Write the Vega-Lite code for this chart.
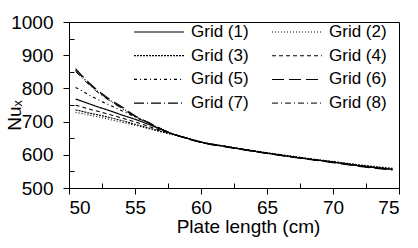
{
  "$schema": "https://vega.github.io/schema/vega-lite/v6.json",
  "autosize": "none",
  "width": 330,
  "height": 166,
  "padding": {"left": 69, "top": 22, "right": 19, "bottom": 60},
  "background": "white",
  "config": {
    "view": {"stroke": "black", "strokeWidth": 1},
    "font": "Liberation Sans",
    "axis": {"grid": false, "domainColor": "black", "tickColor": "black", "labelColor": "black", "titleColor": "black", "labelFont": "Liberation Sans", "titleFont": "Liberation Sans", "labelFontSize": 19, "titleFontSize": 19, "titleFontWeight": "normal"}
  },
  "data": {"values": [
    {"g":"Grid (1)","x":50.5,"y":768},{"g":"Grid (1)","x":51,"y":761},{"g":"Grid (1)","x":51.5,"y":754},{"g":"Grid (1)","x":52,"y":747},{"g":"Grid (1)","x":53,"y":734},{"g":"Grid (1)","x":54,"y":720},{"g":"Grid (1)","x":55,"y":707},{"g":"Grid (1)","x":56,"y":692},{"g":"Grid (1)","x":57,"y":676},{"g":"Grid (1)","x":58,"y":661},{"g":"Grid (1)","x":59,"y":649},{"g":"Grid (1)","x":60,"y":638},{"g":"Grid (1)","x":62,"y":624},{"g":"Grid (1)","x":64,"y":611},{"g":"Grid (1)","x":66,"y":599},{"g":"Grid (1)","x":68,"y":588},{"g":"Grid (1)","x":70,"y":578},{"g":"Grid (1)","x":72,"y":567},{"g":"Grid (1)","x":74.5,"y":556},
    {"g":"Grid (2)","x":50.5,"y":728},{"g":"Grid (2)","x":51,"y":724},{"g":"Grid (2)","x":51.5,"y":720},{"g":"Grid (2)","x":52,"y":716},{"g":"Grid (2)","x":53,"y":707},{"g":"Grid (2)","x":54,"y":698},{"g":"Grid (2)","x":55,"y":689},{"g":"Grid (2)","x":56,"y":679},{"g":"Grid (2)","x":57,"y":669},{"g":"Grid (2)","x":58,"y":659},{"g":"Grid (2)","x":59,"y":650},{"g":"Grid (2)","x":60,"y":639},{"g":"Grid (2)","x":62,"y":625},{"g":"Grid (2)","x":64,"y":612},{"g":"Grid (2)","x":66,"y":601},{"g":"Grid (2)","x":68,"y":590},{"g":"Grid (2)","x":70,"y":580},{"g":"Grid (2)","x":72,"y":570},{"g":"Grid (2)","x":74.5,"y":560},
    {"g":"Grid (3)","x":50.5,"y":735},{"g":"Grid (3)","x":51,"y":731},{"g":"Grid (3)","x":51.5,"y":726},{"g":"Grid (3)","x":52,"y":722},{"g":"Grid (3)","x":53,"y":713},{"g":"Grid (3)","x":54,"y":703},{"g":"Grid (3)","x":55,"y":692},{"g":"Grid (3)","x":56,"y":681},{"g":"Grid (3)","x":57,"y":670},{"g":"Grid (3)","x":58,"y":660},{"g":"Grid (3)","x":59,"y":650},{"g":"Grid (3)","x":60,"y":639},{"g":"Grid (3)","x":62,"y":625},{"g":"Grid (3)","x":64,"y":612},{"g":"Grid (3)","x":66,"y":600},{"g":"Grid (3)","x":68,"y":589},{"g":"Grid (3)","x":70,"y":579},{"g":"Grid (3)","x":72,"y":569},{"g":"Grid (3)","x":74.5,"y":558},
    {"g":"Grid (4)","x":50.5,"y":749},{"g":"Grid (4)","x":51,"y":744},{"g":"Grid (4)","x":51.5,"y":738},{"g":"Grid (4)","x":52,"y":733},{"g":"Grid (4)","x":53,"y":722},{"g":"Grid (4)","x":54,"y":711},{"g":"Grid (4)","x":55,"y":699},{"g":"Grid (4)","x":56,"y":686},{"g":"Grid (4)","x":57,"y":673},{"g":"Grid (4)","x":58,"y":661},{"g":"Grid (4)","x":59,"y":649},{"g":"Grid (4)","x":60,"y":638},{"g":"Grid (4)","x":62,"y":624},{"g":"Grid (4)","x":64,"y":611},{"g":"Grid (4)","x":66,"y":599},{"g":"Grid (4)","x":68,"y":588},{"g":"Grid (4)","x":70,"y":578},{"g":"Grid (4)","x":72,"y":567},{"g":"Grid (4)","x":74.5,"y":556},
    {"g":"Grid (5)","x":50.5,"y":803},{"g":"Grid (5)","x":51,"y":792},{"g":"Grid (5)","x":51.5,"y":781},{"g":"Grid (5)","x":52,"y":770},{"g":"Grid (5)","x":53,"y":751},{"g":"Grid (5)","x":54,"y":733},{"g":"Grid (5)","x":55,"y":714},{"g":"Grid (5)","x":56,"y":696},{"g":"Grid (5)","x":57,"y":677},{"g":"Grid (5)","x":58,"y":661},{"g":"Grid (5)","x":59,"y":649},{"g":"Grid (5)","x":60,"y":638},{"g":"Grid (5)","x":62,"y":624},{"g":"Grid (5)","x":64,"y":611},{"g":"Grid (5)","x":66,"y":599},{"g":"Grid (5)","x":68,"y":588},{"g":"Grid (5)","x":70,"y":578},{"g":"Grid (5)","x":72,"y":567},{"g":"Grid (5)","x":74.5,"y":556},
    {"g":"Grid (6)","x":50.5,"y":860},{"g":"Grid (6)","x":51,"y":838},{"g":"Grid (6)","x":51.5,"y":818},{"g":"Grid (6)","x":52,"y":800},{"g":"Grid (6)","x":53,"y":770},{"g":"Grid (6)","x":54,"y":745},{"g":"Grid (6)","x":55,"y":718},{"g":"Grid (6)","x":56,"y":698},{"g":"Grid (6)","x":57,"y":678},{"g":"Grid (6)","x":58,"y":661},{"g":"Grid (6)","x":59,"y":648},{"g":"Grid (6)","x":60,"y":637},{"g":"Grid (6)","x":62,"y":623},{"g":"Grid (6)","x":64,"y":610},{"g":"Grid (6)","x":66,"y":598},{"g":"Grid (6)","x":68,"y":587},{"g":"Grid (6)","x":70,"y":576},{"g":"Grid (6)","x":72,"y":565},{"g":"Grid (6)","x":74.5,"y":554},
    {"g":"Grid (7)","x":50.5,"y":856},{"g":"Grid (7)","x":51,"y":835},{"g":"Grid (7)","x":51.5,"y":815},{"g":"Grid (7)","x":52,"y":797},{"g":"Grid (7)","x":53,"y":767},{"g":"Grid (7)","x":54,"y":742},{"g":"Grid (7)","x":55,"y":716},{"g":"Grid (7)","x":56,"y":697},{"g":"Grid (7)","x":57,"y":677},{"g":"Grid (7)","x":58,"y":661},{"g":"Grid (7)","x":59,"y":649},{"g":"Grid (7)","x":60,"y":638},{"g":"Grid (7)","x":62,"y":624},{"g":"Grid (7)","x":64,"y":611},{"g":"Grid (7)","x":66,"y":599},{"g":"Grid (7)","x":68,"y":588},{"g":"Grid (7)","x":70,"y":578},{"g":"Grid (7)","x":72,"y":567},{"g":"Grid (7)","x":74.5,"y":556},
    {"g":"Grid (8)","x":50.5,"y":851},{"g":"Grid (8)","x":51,"y":831},{"g":"Grid (8)","x":51.5,"y":812},{"g":"Grid (8)","x":52,"y":794},{"g":"Grid (8)","x":53,"y":765},{"g":"Grid (8)","x":54,"y":740},{"g":"Grid (8)","x":55,"y":715},{"g":"Grid (8)","x":56,"y":696},{"g":"Grid (8)","x":57,"y":677},{"g":"Grid (8)","x":58,"y":661},{"g":"Grid (8)","x":59,"y":649},{"g":"Grid (8)","x":60,"y":638},{"g":"Grid (8)","x":62,"y":624},{"g":"Grid (8)","x":64,"y":611},{"g":"Grid (8)","x":66,"y":599},{"g":"Grid (8)","x":68,"y":588},{"g":"Grid (8)","x":70,"y":578},{"g":"Grid (8)","x":72,"y":567},{"g":"Grid (8)","x":74.5,"y":555}
  ]},
  "mark": {"type": "line", "color": "black", "interpolate": "monotone"},
  "encoding": {
    "x": {
      "field": "x", "type": "quantitative",
      "scale": {"domain": [50, 75], "nice": false, "zero": false},
      "axis": {
        "values": [50, 52.5, 55, 57.5, 60, 62.5, 65, 67.5, 70, 72.5, 75],
        "labelExpr": "datum.value % 5 === 0 ? datum.label : ''",
        "tickSize": {"condition": {"test": "datum.value % 5 !== 0", "value": -5}, "value": 6},
        "labelPadding": 4,
        "title": "Plate length (cm)",
        "titleX": 179, "titleY": 44, "titleBaseline": "alphabetic", "titleAlign": "center"
      }
    },
    "y": {
      "field": "y", "type": "quantitative",
      "scale": {"domain": [500, 1000], "nice": false, "zero": false},
      "axis": {
        "values": [500, 550, 600, 650, 700, 750, 800, 850, 900, 950, 1000],
        "format": "d",
        "labelExpr": "datum.value % 100 === 0 ? datum.label : ''",
        "tickSize": {"condition": {"test": "datum.value % 100 !== 0", "value": -5}, "value": 6},
        "labelPadding": 10,
        "title": "Nuₓ",
        "titleX": -55, "titleY": 93, "titleAngle": -90, "titleAlign": "center", "titleBaseline": "middle"
      }
    },
    "strokeDash": {
      "field": "g", "type": "nominal",
      "scale": {"domain": ["Grid (1)","Grid (3)","Grid (5)","Grid (7)","Grid (2)","Grid (4)","Grid (6)","Grid (8)"],
                "range": [[1,0],[2,1],[3,3,1,3],[10,3,1,3],[1,2],[4,3],[12,5],[6,3,1,3]]},
      "legend": {
        "orient": "none", "legendX": 64, "legendY": 0, "columns": 2, "title": null,
        "symbolType": "stroke", "symbolSize": 2500, "symbolStrokeColor": "black",
        "labelFont": "Liberation Sans", "labelFontSize": 17, "labelColor": "black",
        "labelOffset": 6, "columnPadding": 22, "rowPadding": 3.7, "padding": 0, "clipHeight": 20
      }
    },
    "strokeWidth": {
      "field": "g", "type": "nominal",
      "scale": {"domain": ["Grid (1)","Grid (3)","Grid (5)","Grid (7)","Grid (2)","Grid (4)","Grid (6)","Grid (8)"],
                "range": [1.2, 1, 1, 1, 1.3, 1, 2.5, 1]}
    }
  }
}
